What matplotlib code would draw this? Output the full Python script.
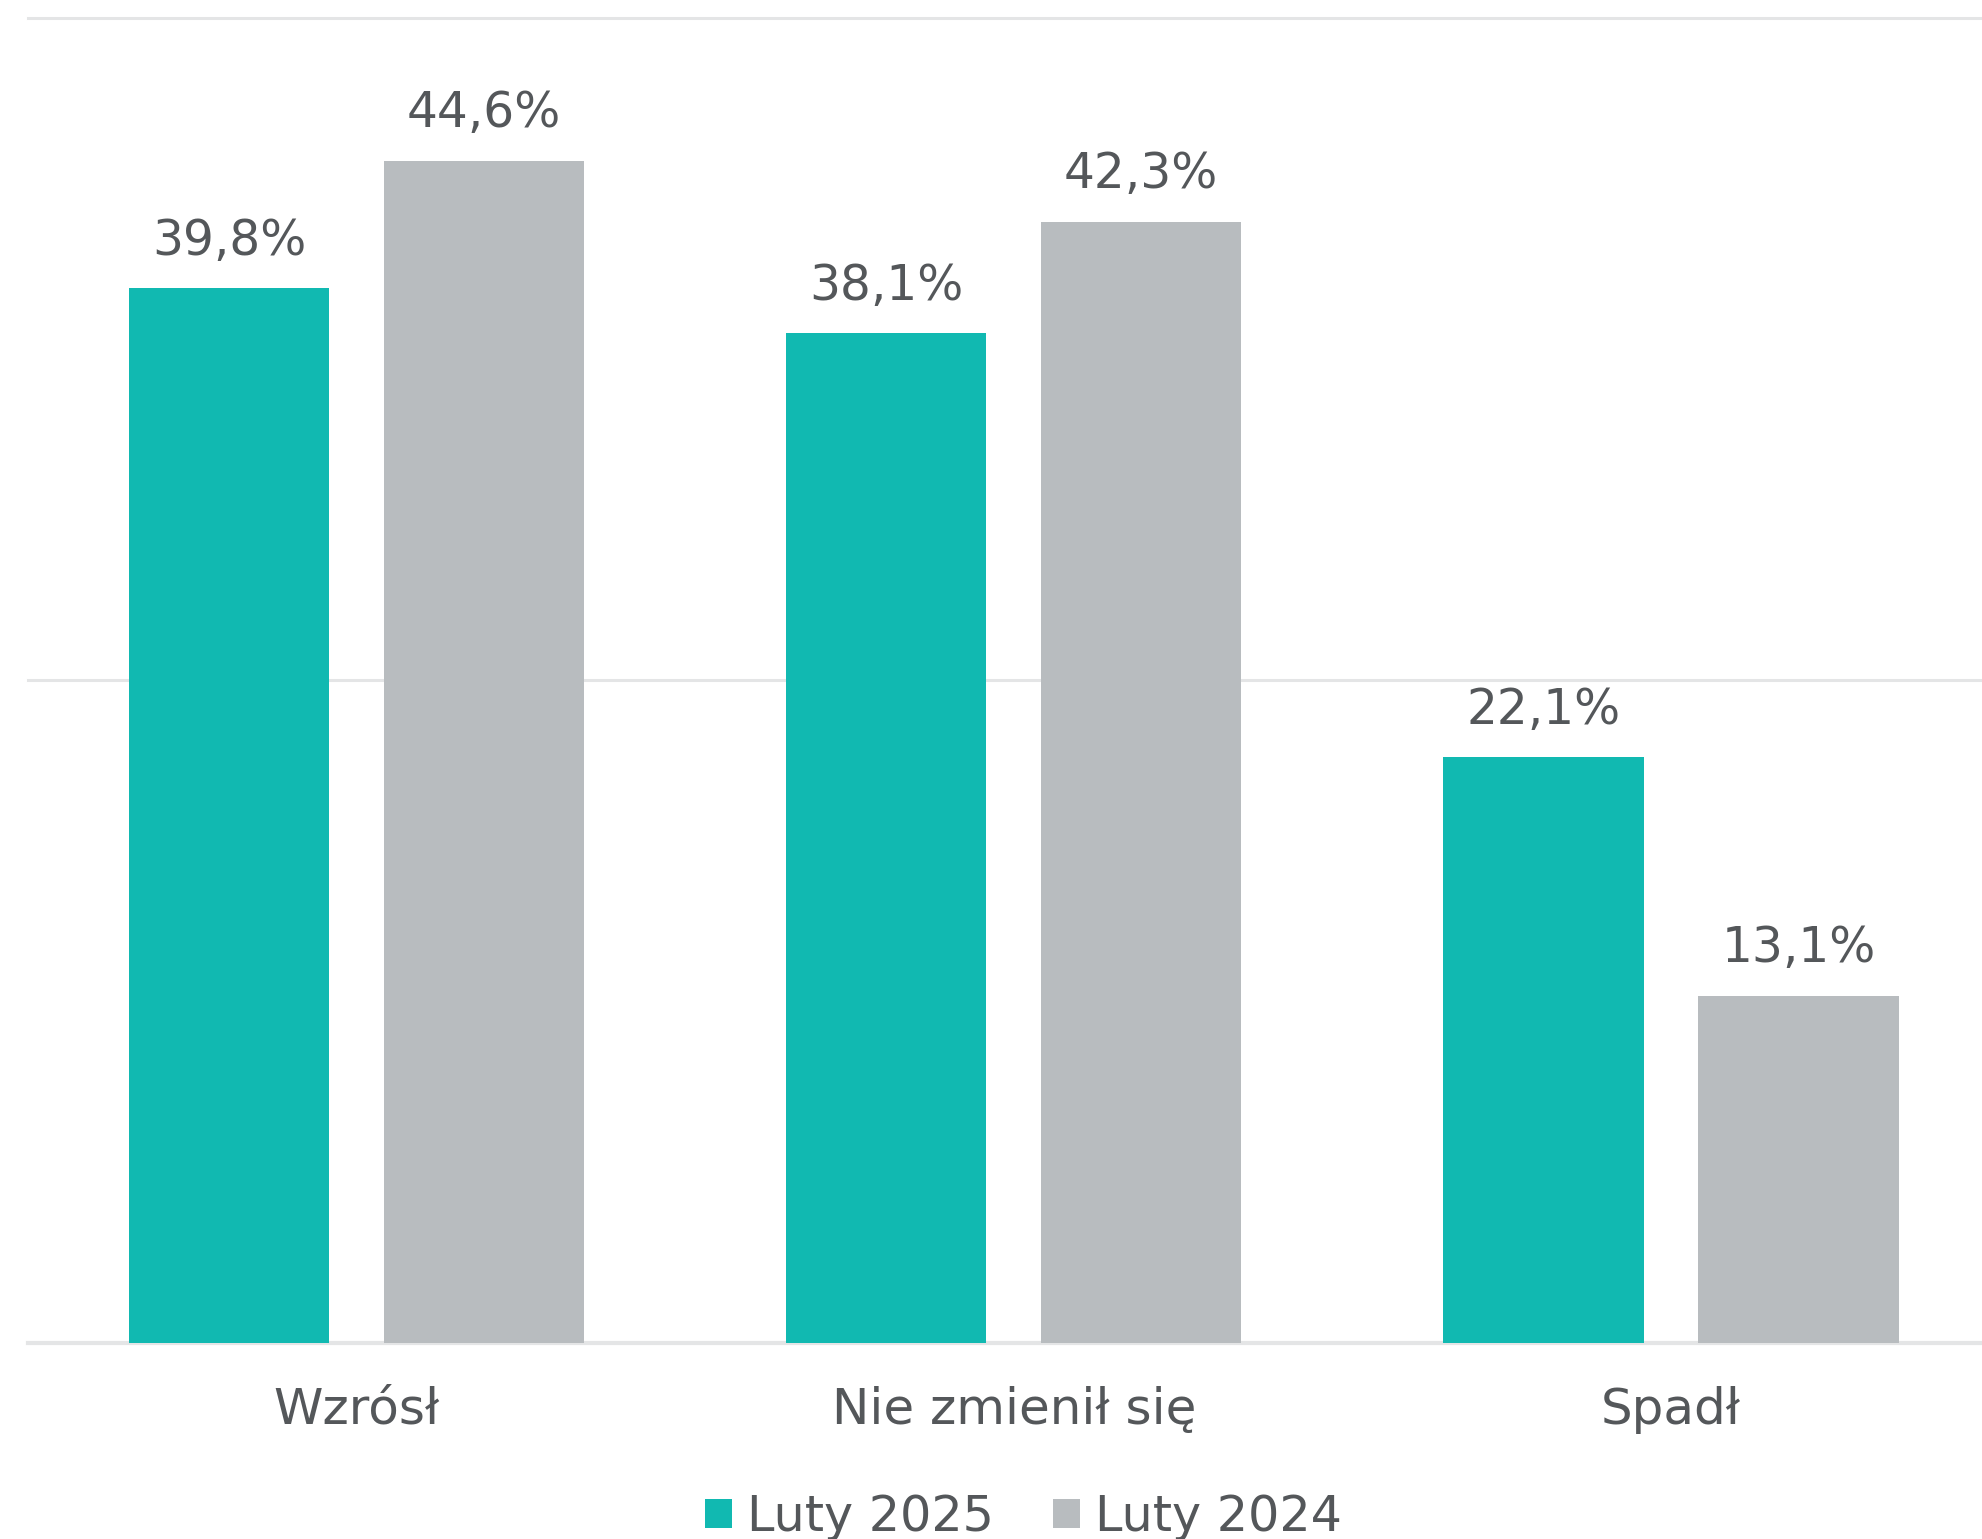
import numpy as np
import matplotlib as mpl
from matplotlib import pyplot as plt

# Fonts / colours
mpl.rc('font', family='DejaVu Sans')
text_col = '#54575a'
teal = '#11b9b1'
grey = '#b8bcbf'

categories = ["Wzrósł", "Nie zmienił się", "Spadł"]
luty_2025 = [39.8, 38.1, 22.1]
luty_2024 = [44.6, 42.3, 13.1]
series_names = ["Luty 2025", "Luty 2024"]

fig = plt.figure(figsize=(19.83, 15.39), dpi=100)
ax = fig.add_axes([0.0141, 0.1274, 0.9859, 0.8611])

x = np.arange(len(categories))
w = 0.305
off = 0.194
b1 = ax.bar(x - off, luty_2025, w, color=teal, label=series_names[0], zorder=3)
b2 = ax.bar(x + off, luty_2024, w, color=grey, label=series_names[1], zorder=3)

for bars, vals in [(b1, luty_2025), (b2, luty_2024)]:
    for rect, v in zip(bars, vals):
        ax.annotate(f"{v:.1f}%".replace('.', ','),
                    xy=(rect.get_x() + rect.get_width() / 2, rect.get_height()),
                    xytext=(0, 24), textcoords='offset points',
                    ha='center', va='baseline', fontsize=35, color=text_col)

ax.set_xlim(-0.5, 2.475)
ax.set_ylim(0, 50)
ax.set_yticks([0, 25, 50])
ax.yaxis.grid(True, color='#e4e5e6', linewidth=2.2, zorder=0)
for gl in ax.get_ygridlines():
    gl.set_clip_on(False)
ax.get_ygridlines()[0].set_linewidth(3.0)
ax.set_axisbelow(True)
ax.tick_params(axis='y', left=False, labelleft=False)
ax.set_xticks(x)
ax.set_xticklabels(categories, fontsize=36, color=text_col)
ax.tick_params(axis='x', length=0, pad=31)
for s in ax.spines.values():
    s.set_visible(False)

fig.legend(handles=[b1, b2], loc='center', bbox_to_anchor=(0.516, 0.0143),
           ncol=2, frameon=False, fontsize=35.5, labelcolor=text_col,
           handlelength=0.55, handleheight=0.55, handletextpad=0.3,
           columnspacing=1.2, borderpad=0, borderaxespad=0)

fig.savefig("out.png", dpi=100)
